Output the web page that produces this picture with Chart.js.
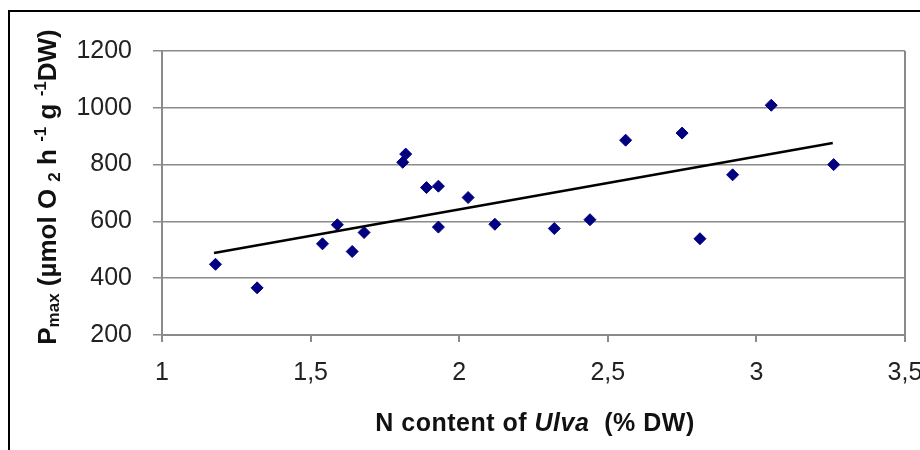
<!DOCTYPE html>
<html>
<head>
<meta charset="utf-8">
<script src="https://cdn.jsdelivr.net/npm/chart.js@4"></script>
<style>
  body { margin: 0; background: #fff; }
  #wrap { position: relative; width: 920px; height: 450px; overflow: hidden; font-family: "Liberation Sans", Arial, sans-serif; }
  #frame { position: absolute; left: 8px; top: 10px; width: 940px; height: 460px; border-left: 2px solid #000; border-top: 2px solid #000; }
  canvas { position: absolute; left: 0; top: 0; }
  .ytitle { position: absolute; left: 48px; top: 187px; transform: translate(-50%, -50%) rotate(-90deg); white-space: nowrap; font-weight: bold; font-size: 26px; color: #111; }
  .ytitle .sm { font-size: 17px; }
  .xtitle { position: absolute; left: 535px; top: 422px; transform: translate(-50%, -50%); white-space: nowrap; font-weight: bold; font-size: 25px; letter-spacing: 0.5px; color: #111; }
</style>
</head>
<body>
<div id="wrap">
  <canvas id="grafica" width="920" height="450"></canvas>
  <div id="frame"></div>
  <div class="ytitle">P<span class="sm" style="vertical-align:-3px">max</span> (µmol O <span class="sm" style="vertical-align:-4px">2</span> h <span class="sm" style="vertical-align:10px">-1</span> g <span class="sm" style="vertical-align:10px">-1</span>DW)</div>
  <div class="xtitle">N content of <i>Ulva</i>&nbsp; (% DW)</div>
</div>
<script>
// Datos: contenido de N (% DW) y Pmax
const contenidoN = [1.18, 1.32, 1.54, 1.59, 1.64, 1.68, 1.81, 1.82, 1.89, 1.93, 1.93, 2.03, 2.12, 2.32, 2.44, 2.56, 2.75, 2.81, 2.92, 3.05, 3.26];
const pmax = [449, 366, 521, 588, 494, 561, 808, 837, 719, 724, 580, 684, 590, 575, 606, 886, 911, 539, 764, 1009, 800];

// Línea de tendencia (extremos)
const tendenciaX = [1.175, 3.257];
const tendenciaY = [489, 876];

// Marcas de los ejes
const ticksX = [1, 1.5, 2, 2.5, 3, 3.5];
const ticksY = [200, 400, 600, 800, 1000, 1200];

const puntos = contenidoN.map((x, i) => ({ x: x, y: pmax[i] }));
const linea = tendenciaX.map((x, i) => ({ x: x, y: tendenciaY[i] }));

const gris = '#8a8a8a';

const ctx = document.getElementById('grafica').getContext('2d');
const grafica = new Chart(ctx, {
  type: 'scatter',
  data: {
    datasets: [
      {
        label: 'Tendencia',
        data: linea,
        showLine: true,
        borderColor: '#000',
        borderWidth: 2.5,
        pointRadius: 0,
        fill: false
      },
      {
        label: 'Pmax',
        data: puntos,
        pointStyle: 'rectRot',
        pointRadius: 6,
        backgroundColor: '#000080',
        borderColor: '#000080',
        borderWidth: 1
      }
    ]
  },
  options: {
    responsive: false,
    devicePixelRatio: 1,
    animation: false,
    layout: {
      padding: { left: 0, right: 15, top: 51, bottom: 55 }
    },
    plugins: {
      legend: { display: false },
      tooltip: { enabled: false }
    },
    scales: {
      x: {
        type: 'linear',
        min: 1,
        max: 3.5,
        afterBuildTicks: (scale) => { scale.ticks = ticksX.map(v => ({ value: v })); },
        afterFit: (scale) => { scale.height = 60; scale.paddingLeft = 0; scale.paddingRight = 0; },
        border: { color: gris, width: 2 },
        grid: {
          color: (c) => (c.tick && c.tick.value === 3.5) ? gris : 'rgba(0,0,0,0)',
          lineWidth: 2,
          tickColor: gris,
          tickLength: 7
        },
        ticks: {
          color: '#222',
          padding: 16,
          maxRotation: 0,
          font: { family: 'Liberation Sans', size: 25 },
          callback: (v) => String(v).replace('.', ',')
        }
      },
      y: {
        min: 200,
        max: 1200,
        afterBuildTicks: (scale) => { scale.ticks = ticksY.map(v => ({ value: v })); },
        afterFit: (scale) => { scale.width = 162; scale.paddingTop = 0; scale.paddingBottom = 0; },
        border: { color: gris, width: 2 },
        grid: {
          color: gris,
          lineWidth: 1.5,
          tickColor: gris,
          tickLength: 9
        },
        ticks: {
          color: '#222',
          padding: 21,
          font: { family: 'Liberation Sans', size: 25 },
          callback: (v) => String(v)
        }
      }
    }
  }
});
</script>
</body>
</html>
